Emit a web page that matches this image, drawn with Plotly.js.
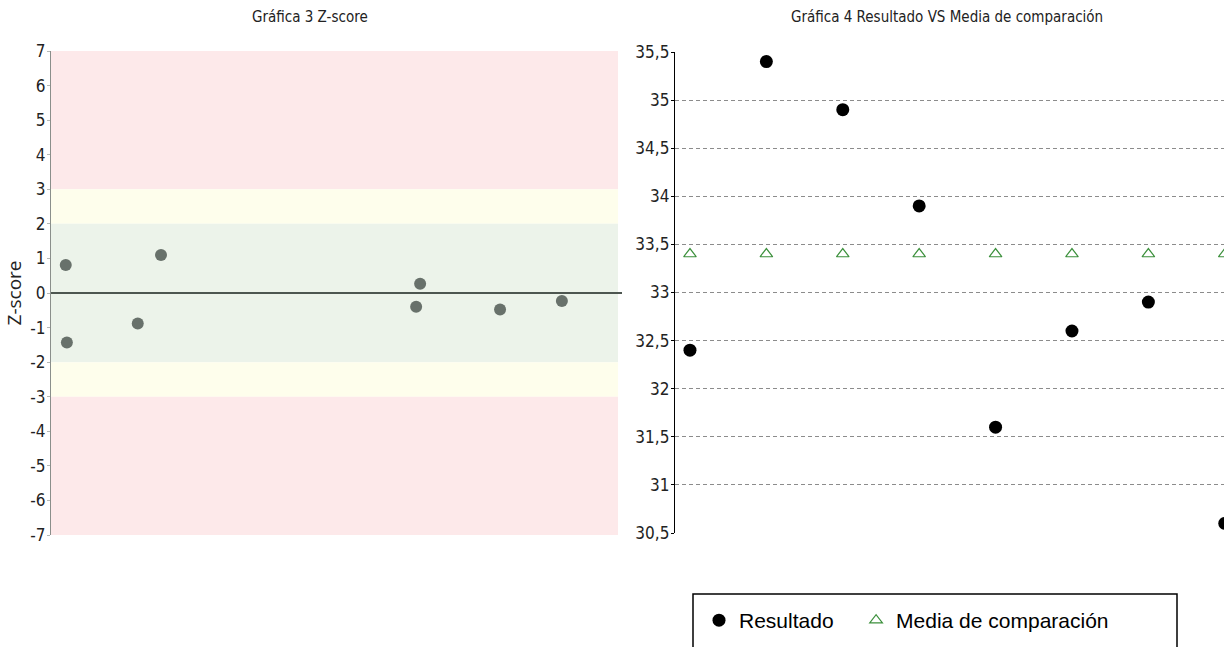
<!DOCTYPE html>
<html>
<head>
<meta charset="utf-8">
<script src="https://cdn.plot.ly/plotly-3.0.1.min.js"></script>
<style>html,body{margin:0;padding:0;background:#fff;}#chart{width:1224px;height:647px;}</style>
</head>
<body>
<div id="chart"></div>
<script>
// ---- Gráfica 3: Z-score ----
const zX = [2.6, 2.8, 15.3, 19.4, 64.4, 65.1, 79.2, 90.1];
const zY = [0.81, -1.43, -0.88, 1.10, -0.40, 0.27, -0.48, -0.23];
const zTickVals = [7, 6, 5, 4, 3, 2, 1, 0, -1, -2, -3, -4, -5, -6, -7];
const zTickText = ["7", "6", "5", "4", "3", "2", "1", "0", "-1", "-2", "-3", "-4", "-5", "-6", "-7"];
// bands: [from, to, colour]
const bandFrom = [3, 2, -2, -3, -7];
const bandTo = [7, 3, 2, -2, -3];
const bandColor = ["#fde9ea", "#fefeec", "#ecf3ea", "#fefeec", "#fde9ea"];

// ---- Gráfica 4: Resultado VS Media de comparación ----
const muestras = [1, 2, 3, 4, 5, 6, 7, 8];
const resultado = [32.4, 35.4, 34.9, 33.9, 31.6, 32.6, 32.9, 30.6];
const media = [33.4, 33.4, 33.4, 33.4, 33.4, 33.4, 33.4, 33.4];
const rTickVals = [35.5, 35, 34.5, 34, 33.5, 33, 32.5, 32, 31.5, 31, 30.5];
const rTickText = ["35,5", "35", "34,5", "34", "33,5", "33", "32,5", "32", "31,5", "31", "30,5"];
const serieNames = ["Resultado\u00a0\u00a0\u00a0", "Media de comparación"];

const W = 1224, H = 647;
const px = v => v / W;
const py = v => 1 - v / H;
const narrow = "DejaVu Sans Condensed, DejaVu Sans, sans-serif";

const shapes = [];
for (let i = 0; i < bandFrom.length; i++) {
  shapes.push({type: "rect", xref: "x", yref: "y", x0: 0, x1: 100, y0: bandFrom[i], y1: bandTo[i],
    fillcolor: bandColor[i], line: {width: 0}, layer: "below"});
}
shapes.push({type: "line", xref: "paper", yref: "y", x0: px(51), x1: px(622), y0: 0, y1: 0,
  line: {color: "#4d5650", width: 2}});
shapes.push({type: "rect", xref: "paper", yref: "paper", x0: px(693), x1: px(1177), y0: -0.2, y1: py(594),
  line: {color: "#000", width: 1.5}, fillcolor: "rgba(0,0,0,0)"});

const traces = [
  {type: "scatter", mode: "markers", x: zX, y: zY, xaxis: "x", yaxis: "y", showlegend: false,
    marker: {color: "#68716b", size: 12}, hoverinfo: "y"},
  {type: "scatter", mode: "markers", name: serieNames[0], x: muestras, y: resultado, xaxis: "x2", yaxis: "y2",
    marker: {color: "#000", size: 13, symbol: "circle"}},
  {type: "scatter", mode: "markers", name: serieNames[1], x: muestras, y: media, xaxis: "x2", yaxis: "y2",
    marker: {color: "#3c903c", size: 11, symbol: "triangle-up-open", line: {width: 1.2}}}
];

const layout = {
  width: W, height: H,
  margin: {l: 0, r: 0, t: 0, b: 0},
  paper_bgcolor: "#fff", plot_bgcolor: "rgba(0,0,0,0)",
  showlegend: true,
  legend: {orientation: "h", x: px(699), y: py(600), xanchor: "left", yanchor: "top",
    font: {family: "Liberation Sans, Arial, sans-serif", size: 21, color: "#000"},
    bgcolor: "rgba(0,0,0,0)", borderwidth: 0},
  xaxis: {domain: [px(51), px(618)], range: [0, 100], visible: false, fixedrange: true},
  yaxis: {domain: [py(535), py(51)], range: [-7, 7], tickvals: zTickVals, ticktext: zTickText,
    showline: true, linecolor: "#8a8f8b", linewidth: 1, ticks: "outside", ticklen: 3, tickcolor: "#b5b9b6",
    ticklabelstandoff: -2,
    showgrid: false, zeroline: false, tickfont: {family: narrow, size: 17, color: "#222"},
    title: {text: "Z-score", font: {family: "Open Sans, sans-serif", size: 19, color: "#222"}, standoff: 3}},
  xaxis2: {domain: [px(675), 1], range: [0.804, 7.99], visible: false, fixedrange: true, anchor: "y2"},
  yaxis2: {domain: [py(533), py(52)], range: [30.5, 35.5], tickvals: rTickVals, ticktext: rTickText, anchor: "x2",
    showline: true, linecolor: "#000", linewidth: 1.2, ticks: "outside", ticklen: 3, tickcolor: "#000",
    ticklabelstandoff: -2,
    showgrid: true, gridcolor: "#8c8c8c", griddash: "4px,3px", gridwidth: 1, zeroline: false,
    tickfont: {family: narrow, size: 17, color: "#222"}},
  shapes: shapes,
  annotations: [
    {text: "Gráfica 3 Z-score", xref: "paper", yref: "paper", x: px(310), y: py(17), xanchor: "center", yanchor: "middle",
      showarrow: false, font: {family: narrow, size: 15, color: "#222"}},
    {text: "Gráfica 4 Resultado VS Media de comparación", xref: "paper", yref: "paper", x: px(947), y: py(17),
      xanchor: "center", yanchor: "middle", showarrow: false, font: {family: narrow, size: 15, color: "#222"}}
  ]
};

Plotly.newPlot("chart", traces, layout, {displayModeBar: false, staticPlot: true});
</script>
</body>
</html>
